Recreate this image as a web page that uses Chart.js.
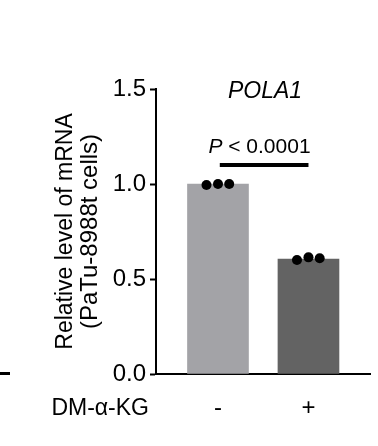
<!DOCTYPE html>
<html>
<head>
<meta charset="utf-8">
<script src="https://cdn.jsdelivr.net/npm/chart.js@4.4.1/dist/chart.umd.min.js"></script>
<style>
  html, body { margin: 0; padding: 0; background: #fff; }
  #wrap { position: relative; width: 378px; height: 446px; }
</style>
</head>
<body>
<div id="wrap"><canvas id="c" width="378" height="446"></canvas></div>
<script>
// ---- data ----
const categories = ['-', '+'];
const categoryPositions = [0, 1];
const barMeans = [1.0, 0.605];
const replicatesNeg = [0.995, 1.0, 1.0];
const replicatesPos = [0.60, 0.614, 0.609];
const replicateOffsets = [-0.127, 0, 0.124];
const yTicks = [0, 0.5, 1.0, 1.5];
const title = 'POLA1';
const pValueText = '< 0.0001';
const xGroupLabel = 'DM-α-KG';
const yTitleLines = ['Relative level of mRNA', '(PaTu-8988t cells)'];
const barColors = ['#a3a3a7', '#636363'];

const FONT = "'Liberation Sans', Arial, Helvetica, sans-serif";

const barData = categoryPositions.map((x, i) => ({ x: x, y: barMeans[i] }));
const dotData = [];
[replicatesNeg, replicatesPos].forEach((reps, ci) => {
  reps.forEach((v, k) => dotData.push({ x: categoryPositions[ci] + replicateOffsets[k], y: v }));
});

const annotPlugin = {
  id: 'annot',
  afterDraw(chart) {
    const ctx = chart.ctx;
    const xs = chart.scales.x, ys = chart.scales.y;
    ctx.save();
    ctx.fillStyle = '#000';
    ctx.strokeStyle = '#000';
    // title
    ctx.font = 'italic 23px ' + FONT;
    ctx.textAlign = 'center';
    ctx.textBaseline = 'alphabetic';
    ctx.fillText(title, 265, 97.5);
    // significance bar
    const yb = ys.getPixelForValue(1.1);
    ctx.lineWidth = 4;
    ctx.beginPath();
    ctx.moveTo(xs.getPixelForValue(0.02), yb);
    ctx.lineTo(xs.getPixelForValue(1.0), yb);
    ctx.stroke();
    // p value text
    ctx.font = 'italic 21px ' + FONT;
    const pW = ctx.measureText('P').width;
    ctx.font = '21px ' + FONT;
    const restW = ctx.measureText(' ' + pValueText).width;
    const total = pW + restW;
    const cx = 259.5;
    const x0 = cx - total / 2;
    ctx.textAlign = 'left';
    ctx.font = 'italic 21px ' + FONT;
    ctx.fillText('P', x0, yb - 12.5);
    ctx.font = '21px ' + FONT;
    ctx.fillText(' ' + pValueText, x0 + pW, yb - 12.5);
    // x group label
    ctx.font = '23px ' + FONT;
    ctx.textAlign = 'right';
    ctx.textBaseline = 'middle';
    ctx.fillText(xGroupLabel, 149, 409);
    // y title
    ctx.textAlign = 'center';
    ctx.textBaseline = 'middle';
    const cy = (chart.chartArea.top + chart.chartArea.bottom) / 2;
    ctx.translate(0, cy);
    ctx.rotate(-Math.PI / 2);
    ctx.font = '23px ' + FONT;
    ctx.fillText(yTitleLines[0], 0, 66);
    ctx.font = '24px ' + FONT;
    ctx.fillText(yTitleLines[1], 0, 90);
    ctx.restore();
    // neighbouring panel stub
    ctx.save();
    ctx.fillStyle = '#000';
    ctx.fillRect(0, 372, 10, 3);
    ctx.restore();
  }
};

new Chart(document.getElementById('c'), {
  type: 'bar',
  data: {
    datasets: [
      {
        type: 'scatter',
        data: dotData,
        backgroundColor: '#000',
        borderColor: '#000',
        pointRadius: 5,
        pointBorderWidth: 0,
        order: 0
      },
      {
        type: 'bar',
        data: barData,
        backgroundColor: barColors,
        borderWidth: 0,
        barThickness: 61,
        order: 1
      }
    ]
  },
  plugins: [annotPlugin],
  options: {
    responsive: false,
    animation: false,
    devicePixelRatio: 1,
    layout: { padding: { top: 89, right: 8, left: 0, bottom: 0 } },
    plugins: { legend: { display: false }, tooltip: { enabled: false }, title: { display: false } },
    scales: {
      x: {
        type: 'linear',
        min: -0.685,
        max: 1.68,
        offset: false,
        afterBuildTicks: s => { s.ticks = categoryPositions.map(v => ({ value: v })); },
        afterFit: s => { s.height = 72; },
        ticks: {
          autoSkip: false,
          maxRotation: 0,
          padding: 20,
          color: '#000',
          font: { family: FONT, size: 24 },
          callback: (v) => categories[categoryPositions.indexOf(v)]
        },
        grid: { display: true, drawOnChartArea: false, drawTicks: false },
        border: { color: '#000', width: 2 }
      },
      y: {
        min: 0,
        max: 1.5,
        afterBuildTicks: s => { s.ticks = yTicks.map(v => ({ value: v })); },
        afterFit: s => { s.width = 156; },
        ticks: {
          padding: 4,
          color: '#000',
          font: { family: FONT, size: 24 },
          callback: v => Number(v).toFixed(1)
        },
        grid: { display: true, drawOnChartArea: false, drawTicks: true, tickLength: 6, tickWidth: 2, tickColor: '#000' },
        border: { color: '#000', width: 2 }
      }
    }
  }
});
</script>
</body>
</html>
